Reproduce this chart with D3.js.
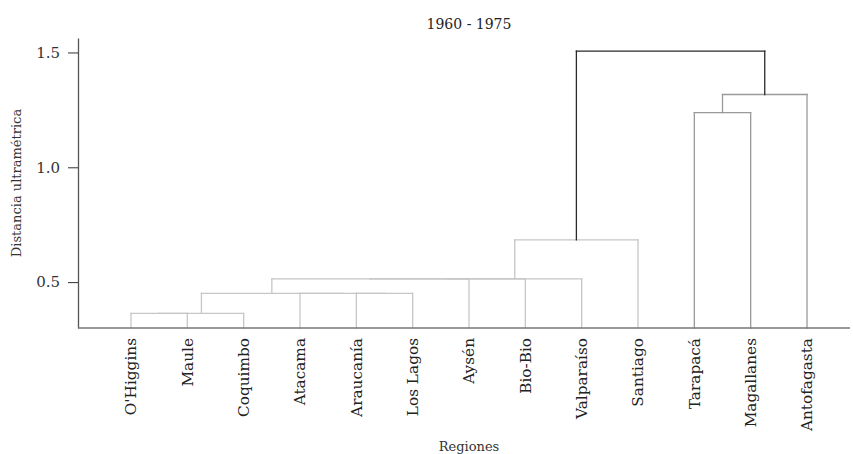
<!DOCTYPE html>
<html>
<head>
<meta charset="utf-8">
<script src="https://cdn.jsdelivr.net/npm/d3@7"></script>
<style>
  html, body { margin: 0; padding: 0; background: #fff; }
  svg { display: block; font-family: "DejaVu Serif", "Liberation Serif", serif; }
</style>
</head>
<body>
<div id="chart"></div>
<script>
// Leaves in dendrogram order
const regions = ["O'Higgins", 'Maule', 'Coquimbo', 'Atacama', 'Araucanía', 'Los Lagos',
  'Aysén', 'Bio-Bio', 'Valparaíso', 'Santiago', 'Tarapacá', 'Magallanes', 'Antofagasta'];

// Merge table, R hclust style: negative = leaf (1-based), positive = earlier merge (1-based)
const mergeLeft  = [-1, 1, -5, -4, 2, 5, 6, 7, 8, -11, 10, 9];
const mergeRight = [-2, -3, -6, 3, 4, -7, -8, -9, -10, -12, -13, 11];
const mergeHeight = [0.364, 0.364, 0.451, 0.451, 0.451, 0.514, 0.514, 0.514, 0.684, 1.238, 1.317, 1.506];

const yTicks = [0.5, 1.0, 1.5];

const width = 853, height = 454;
const margin = { top: 38, right: 3, bottom: 126, left: 78 };
const serif = '"DejaVu Serif", "Liberation Serif", serif';

const svg = d3.select('#chart').append('svg')
  .attr('width', width)
  .attr('height', height);

const x = d3.scalePoint()
  .domain(regions)
  .range([131, 807]);

const y = d3.scaleLinear()
  .domain([0.3, 1.563])
  .range([height - margin.bottom, margin.top]);

// line colour by merge height: light for low merges, dark at the root
const linkColor = d3.scaleThreshold()
  .domain([1.0, 1.4])
  .range(['#c6c6c6', '#9a9a9a', '#2a2a2a']);

// build node positions from the merge table
const nodes = [];
function nodeOf(i) {
  if (i < 0) return { x: x(regions[-i - 1]), h: y.domain()[0], leaf: true };
  return nodes[i - 1];
}
const segs = [];
mergeLeft.forEach((l, k) => {
  const a = nodeOf(l), b = nodeOf(mergeRight[k]);
  const h = mergeHeight[k];
  const n = { x: (a.x + b.x) / 2, h };
  nodes.push(n);
  const c = linkColor(h);
  segs.push({ x1: a.x, y1: a.h, x2: a.x, y2: h, c });
  segs.push({ x1: b.x, y1: b.h, x2: b.x, y2: h, c });
  segs.push({ x1: a.x, y1: h, x2: b.x, y2: h, c });
});

// draw lighter first so darker lines sit on top
svg.append('g')
  .selectAll('line')
  .data(segs.slice().sort((p, q) => d3.descending(p.c, q.c)))
  .join('line')
  .attr('x1', d => d.x1)
  .attr('x2', d => d.x2)
  .attr('y1', d => y(d.y1))
  .attr('y2', d => y(d.y2))
  .attr('stroke', d => d.c)
  .attr('stroke-width', 1.3)
  .attr('stroke-linecap', 'square');

// y axis
const yAxis = svg.append('g')
  .attr('transform', `translate(${margin.left},0)`)
  .call(d3.axisLeft(y).tickValues(yTicks).tickFormat(d3.format('.1f')).tickSize(10).tickSizeOuter(0).tickPadding(8));
yAxis.select('.domain').attr('stroke', '#555').attr('stroke-width', 1.3);
yAxis.selectAll('.tick line').attr('stroke', '#444').attr('stroke-width', 1.1);
yAxis.selectAll('.tick text')
  .attr('font-family', serif)
  .attr('font-size', 15)
  .attr('fill', '#333');

// x axis baseline (no ticks)
svg.append('line')
  .attr('x1', margin.left)
  .attr('x2', width - margin.right)
  .attr('y1', y.range()[0])
  .attr('y2', y.range()[0])
  .attr('stroke', '#777')
  .attr('stroke-width', 1.5);

// leaf labels
svg.append('g')
  .selectAll('text')
  .data(regions)
  .join('text')
  .attr('transform', d => `translate(${x(d)},${y.range()[0] + 10}) rotate(-90)`)
  .attr('text-anchor', 'end')
  .attr('dy', '0.35em')
  .attr('font-size', 15.3)
  .attr('fill', '#222')
  .text(d => d);

// titles
svg.append('text')
  .attr('x', 469)
  .attr('y', 29)
  .attr('text-anchor', 'middle')
  .attr('font-size', 14)
  .attr('fill', '#222')
  .text('1960 - 1975');

svg.append('text')
  .attr('x', 469)
  .attr('y', 451)
  .attr('text-anchor', 'middle')
  .attr('font-size', 13)
  .attr('fill', '#333')
  .text('Regiones');

svg.append('text')
  .attr('transform', `translate(21,${(margin.top + height - margin.bottom) / 2}) rotate(-90)`)
  .attr('text-anchor', 'middle')
  .attr('font-size', 13)
  .attr('fill', '#333')
  .text('Distancia ultramétrica');
</script>
</body>
</html>
